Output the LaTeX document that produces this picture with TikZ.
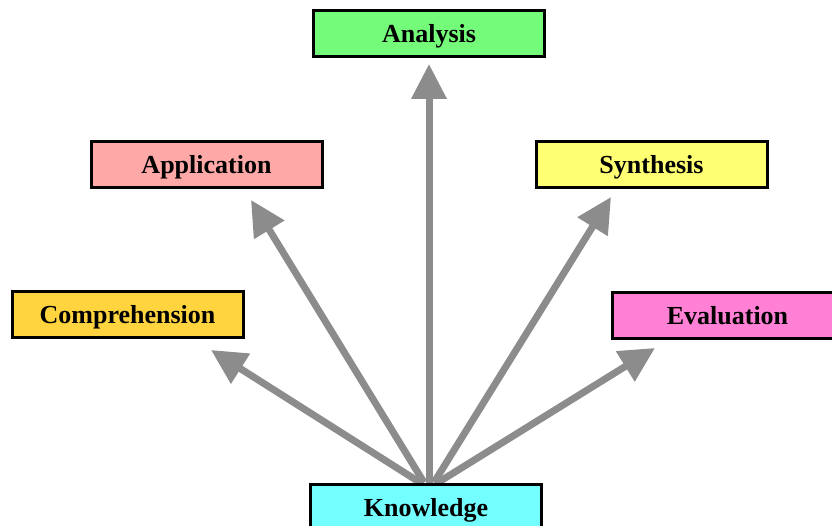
\documentclass[tikz,border=0pt]{standalone}
\usepackage{fontspec}
\setmainfont{Liberation Serif}
\usetikzlibrary{arrows.meta}
\definecolor{cgreen}{HTML}{73FB79}
\definecolor{cpink}{HTML}{FFA8A8}
\definecolor{cyell}{HTML}{FFFF73}
\definecolor{cgold}{HTML}{FFD43F}
\definecolor{cmag}{HTML}{FF80D4}
\definecolor{ccyan}{HTML}{73FFFF}
\definecolor{arrgray}{HTML}{8C8C8C}
\tikzset{
  levelbox/.style={draw=black, line width=3pt, minimum width=231pt, minimum height=46pt,
    inner sep=0pt, text height=18pt, text depth=0pt, font=\fontsize{26}{30}\selectfont\bfseries},
  bigarrow/.style={draw=arrgray, line width=7pt, -{Triangle[length=35pt,width=34pt]}, color=arrgray}
}
\begin{document}
\begin{tikzpicture}[x=1pt,y=1pt]
\useasboundingbox (0,0) rectangle (832,525);
\coordinate (tA) at (429,461);
\coordinate (tP) at (251,325);
\coordinate (tS) at (611,328);
\coordinate (tC) at (211,175);
\coordinate (tE) at (655,177);
\node[levelbox, fill=ccyan] (K) at (426,18) {Knowledge};
\coordinate (s1) at ([xshift=-6pt]K.north);
\coordinate (s2) at ([xshift=-2pt]K.north);
\coordinate (s3) at ([xshift=3pt]K.north);
\coordinate (s4) at ([xshift=8pt]K.north);
\coordinate (s5) at ([xshift=12pt]K.north);
\draw[bigarrow] (s1) -- (tC);
\draw[bigarrow] (s2) -- (tP);
\draw[bigarrow] (s3) -- (tA);
\draw[bigarrow] (s4) -- (tS);
\draw[bigarrow] (s5) -- (tE);
\node[levelbox, fill=ccyan] at (K) {Knowledge};
\node[levelbox, fill=cgreen] (A) at (429,491) {Analysis};
\node[levelbox, fill=cpink] (P) at (206.5,360) {Application};
\node[levelbox, fill=cyell] (S) at (651.5,360) {Synthesis};
\node[levelbox, fill=cgold] (C) at (127.5,210) {Comprehension\hspace{6pt}};
\node[levelbox, fill=cmag] (E) at (727.5,209) {Evaluation};
\end{tikzpicture}
\end{document}
